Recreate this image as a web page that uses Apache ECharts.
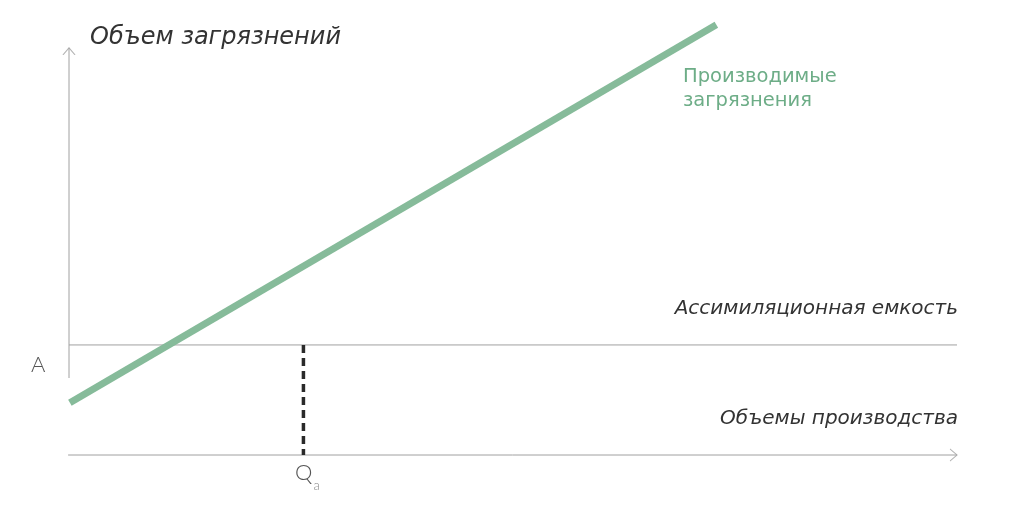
<!DOCTYPE html>
<html><head><meta charset="utf-8">
<script src="https://cdn.jsdelivr.net/npm/echarts@6/dist/echarts.min.js"></script>
<style>html,body{margin:0;padding:0;background:#fff}#c{width:1024px;height:509px}</style>
</head><body><div id="c"></div>
<script>
// Data (value units on a 0–100 x 0–100 schematic scale)
const pollutionLine = [[0.1, 12.0], [72.9, 98.9]];   // "Производимые загрязнения"
const assimilationA = 25.3;                            // level A
const qa = 26.4;                                       // Q_a
const yAxisSpan = [17.7, 93.6];
const xAxisSpan = [-0.1, 100];
const labels = {
  yTitle: 'Объем загрязнений',
  xTitle: 'Объемы производства',
  assim: 'Ассимиляционная емкость',
  line: ['Производимые', 'загрязнения'],
  a: 'А',
  q: 'Q',
  qSub: 'a'
};

const gray = '#a0a0a0';
const green = '#86bb9a';
const font = '"DejaVu Sans", sans-serif';
const lfont = 'Lato, "Open Sans", sans-serif';

const chart = echarts.init(document.getElementById('c'), null, {renderer: 'canvas'});
chart.setOption({
  animation: false,
  grid: {left: 69, right: 67, top: 20, bottom: 54},
  xAxis: {type: 'value', min: 0, max: 100, show: false},
  yAxis: {type: 'value', min: 0, max: 100, show: false},
  series: [
    {type: 'line', data: [[0, yAxisSpan[0]], [0, yAxisSpan[1]]], symbol: 'none', lineStyle: {color: gray, width: 1}, clip: false, silent: true},
    {type: 'line', data: [[xAxisSpan[0], 0], [xAxisSpan[1], 0]], symbol: 'none', lineStyle: {color: gray, width: 1}, clip: false, silent: true},
    {type: 'line', data: [[0, assimilationA], [100, assimilationA]], symbol: 'none', lineStyle: {color: gray, width: 1}, clip: false, silent: true},
    {type: 'line', data: [[qa, assimilationA], [qa, 0]], symbol: 'none', lineStyle: {color: '#2a2a2a', width: 3.5, type: [8, 5]}, clip: false, silent: true},
    {type: 'line', data: pollutionLine, symbol: 'none', lineStyle: {color: green, width: 7, cap: 'butt'}, clip: false, silent: true},
    {type: 'scatter', data: [[0, yAxisSpan[1]]], symbol: 'path://M0,10 L5,0 L10,10', symbolSize: [12, 7], symbolOffset: [0, 3.5],
      itemStyle: {color: 'rgba(0,0,0,0)', borderColor: gray, borderWidth: 1}, clip: false, silent: true},
    {type: 'scatter', data: [[xAxisSpan[1], 0]], symbol: 'path://M0,0 L10,5 L0,10', symbolSize: [7, 12], symbolOffset: [-3.5, 0],
      itemStyle: {color: 'rgba(0,0,0,0)', borderColor: gray, borderWidth: 1}, clip: false, silent: true}
  ],
  graphic: [
    {type: 'text', left: 90, top: 26, style: {text: labels.yTitle, font: 'oblique 24px ' + font, fill: '#333'}},
    {type: 'text', right: 66, top: 299, style: {text: labels.assim, font: 'oblique 20px ' + font, fill: '#333'}},
    {type: 'text', right: 66, top: 409, style: {text: labels.xTitle, font: 'oblique 20px ' + font, fill: '#333'}},
    {type: 'text', left: 683, top: 65, style: {text: labels.line.join('\n'), font: '19.5px ' + font, fill: '#6dad87', lineHeight: 24}},
    {type: 'text', left: 31, top: 354, style: {text: labels.a, font: '300 22px ' + lfont, fill: '#555'}},
    {type: 'text', left: 295, top: 462, style: {
      text: '{q|' + labels.q + '}{s|' + labels.qSub + '}',
      rich: {q: {font: '300 22px ' + lfont, fill: '#555', verticalAlign: 'bottom'},
             s: {font: '300 13px ' + lfont, fill: '#888', padding: [0, 0, -8, 1], verticalAlign: 'bottom'}}
    }}
  ]
});
</script></body></html>
